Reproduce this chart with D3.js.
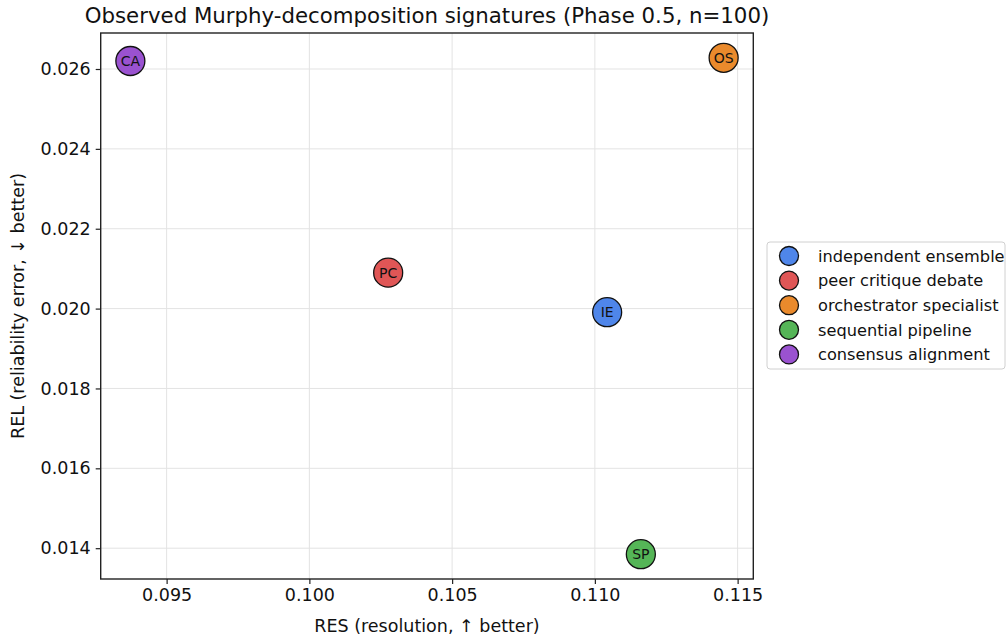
<html>
<head>
<script src="https://d3js.org/d3.v7.min.js"></script>
<style>
  body { margin: 0; background: white; }
  svg text { font-family: "DejaVu Sans", sans-serif; fill: #111; }
</style>
</head>
<body>
<svg id="chart" width="1008" height="637"></svg>
<script>
// data
var names = ["independent ensemble", "peer critique debate", "orchestrator specialist", "sequential pipeline", "consensus alignment"];
var codes = ["IE", "PC", "OS", "SP", "CA"];
var resValues = [0.11043, 0.10276, 0.11451, 0.11161, 0.09373];
var relValues = [0.01991, 0.02090, 0.02628, 0.01385, 0.02620];
var colors = ["#4f86ea", "#e05656", "#ea8a2c", "#55b557", "#9a52d0"];
var xTicks = [0.095, 0.100, 0.105, 0.110, 0.115];
var yTicks = [0.014, 0.016, 0.018, 0.020, 0.022, 0.024, 0.026];

var pl = 100.7, pr = 753.3, pt = 33, pb = 579;

var svg = d3.select("#chart");

// matplotlib style 5% padding around the data
var xr = d3.max(resValues) - d3.min(resValues);
var yr = d3.max(relValues) - d3.min(relValues);
var x = d3.scaleLinear()
  .domain([d3.min(resValues) - 0.05 * xr, d3.max(resValues) + 0.05 * xr])
  .range([pl, pr]);
var y = d3.scaleLinear()
  .domain([d3.min(relValues) - 0.05 * yr, d3.max(relValues) + 0.05 * yr])
  .range([pb, pt]);

// grid
svg.append("g").selectAll("line").data(xTicks).enter().append("line")
  .attr("x1", d => x(d)).attr("x2", d => x(d))
  .attr("y1", pt).attr("y2", pb)
  .attr("stroke", "#e3e3e3").attr("stroke-width", 1);
svg.append("g").selectAll("line").data(yTicks).enter().append("line")
  .attr("y1", d => y(d)).attr("y2", d => y(d))
  .attr("x1", pl).attr("x2", pr)
  .attr("stroke", "#e3e3e3").attr("stroke-width", 1);

// axes
var xAxis = svg.append("g")
  .attr("transform", "translate(0," + pb + ")")
  .call(d3.axisBottom(x).tickValues(xTicks).tickFormat(d3.format(".3f")).tickSize(5).tickPadding(5));
var yAxis = svg.append("g")
  .attr("transform", "translate(" + pl + ",0)")
  .call(d3.axisLeft(y).tickValues(yTicks).tickFormat(d3.format(".3f")).tickSize(5).tickPadding(5));
[xAxis, yAxis].forEach(function (a) {
  a.select(".domain").remove();
  a.selectAll(".tick line").attr("stroke", "#222").attr("stroke-width", 1.2);
  a.selectAll(".tick text").attr("font-size", 17.5).attr("fill", "#111")
    .attr("font-family", "DejaVu Sans, sans-serif");
});

svg.append("rect")
  .attr("x", pl).attr("y", pt)
  .attr("width", pr - pl).attr("height", pb - pt)
  .attr("fill", "none").attr("stroke", "#222").attr("stroke-width", 1.4);

// points
var pts = svg.append("g").selectAll("g").data(codes).enter().append("g")
  .attr("transform", (d, i) => "translate(" + x(resValues[i]) + "," + y(relValues[i]) + ")");
pts.append("circle").attr("r", 14.5)
  .attr("fill", (d, i) => colors[i])
  .attr("stroke", "#111").attr("stroke-width", 1.3);
pts.append("text").text(d => d)
  .attr("text-anchor", "middle").attr("dy", "0.36em")
  .attr("font-size", 14).attr("fill", "#111");

// titles
svg.append("text")
  .attr("x", (pl + pr) / 2).attr("y", 23)
  .attr("text-anchor", "middle").attr("font-size", 21.3)
  .text("Observed Murphy-decomposition signatures (Phase 0.5, n=100)");
svg.append("text")
  .attr("x", (pl + pr) / 2).attr("y", 632)
  .attr("text-anchor", "middle").attr("font-size", 17.5)
  .text("RES (resolution, \u2191 better)");
svg.append("text")
  .attr("transform", "translate(24," + (pt + pb) / 2 + ") rotate(-90)")
  .attr("text-anchor", "middle").attr("font-size", 17.5)
  .text("REL (reliability error, \u2193 better)");

// legend
var lg = svg.append("g").attr("transform", "translate(767,242)");
lg.append("rect").attr("width", 238).attr("height", 127).attr("rx", 3)
  .attr("fill", "white").attr("stroke", "#d0d0d0").attr("stroke-width", 1);
var rows = lg.selectAll("g").data(names).enter().append("g")
  .attr("transform", (d, i) => "translate(0," + (14 + i * 24.6) + ")");
rows.append("circle").attr("cx", 22).attr("r", 9.5)
  .attr("fill", (d, i) => colors[i]).attr("stroke", "#111").attr("stroke-width", 1.3);
rows.append("text").attr("x", 51).attr("dy", "0.36em")
  .attr("font-size", 16.2).text(d => d);
</script>
</body>
</html>
